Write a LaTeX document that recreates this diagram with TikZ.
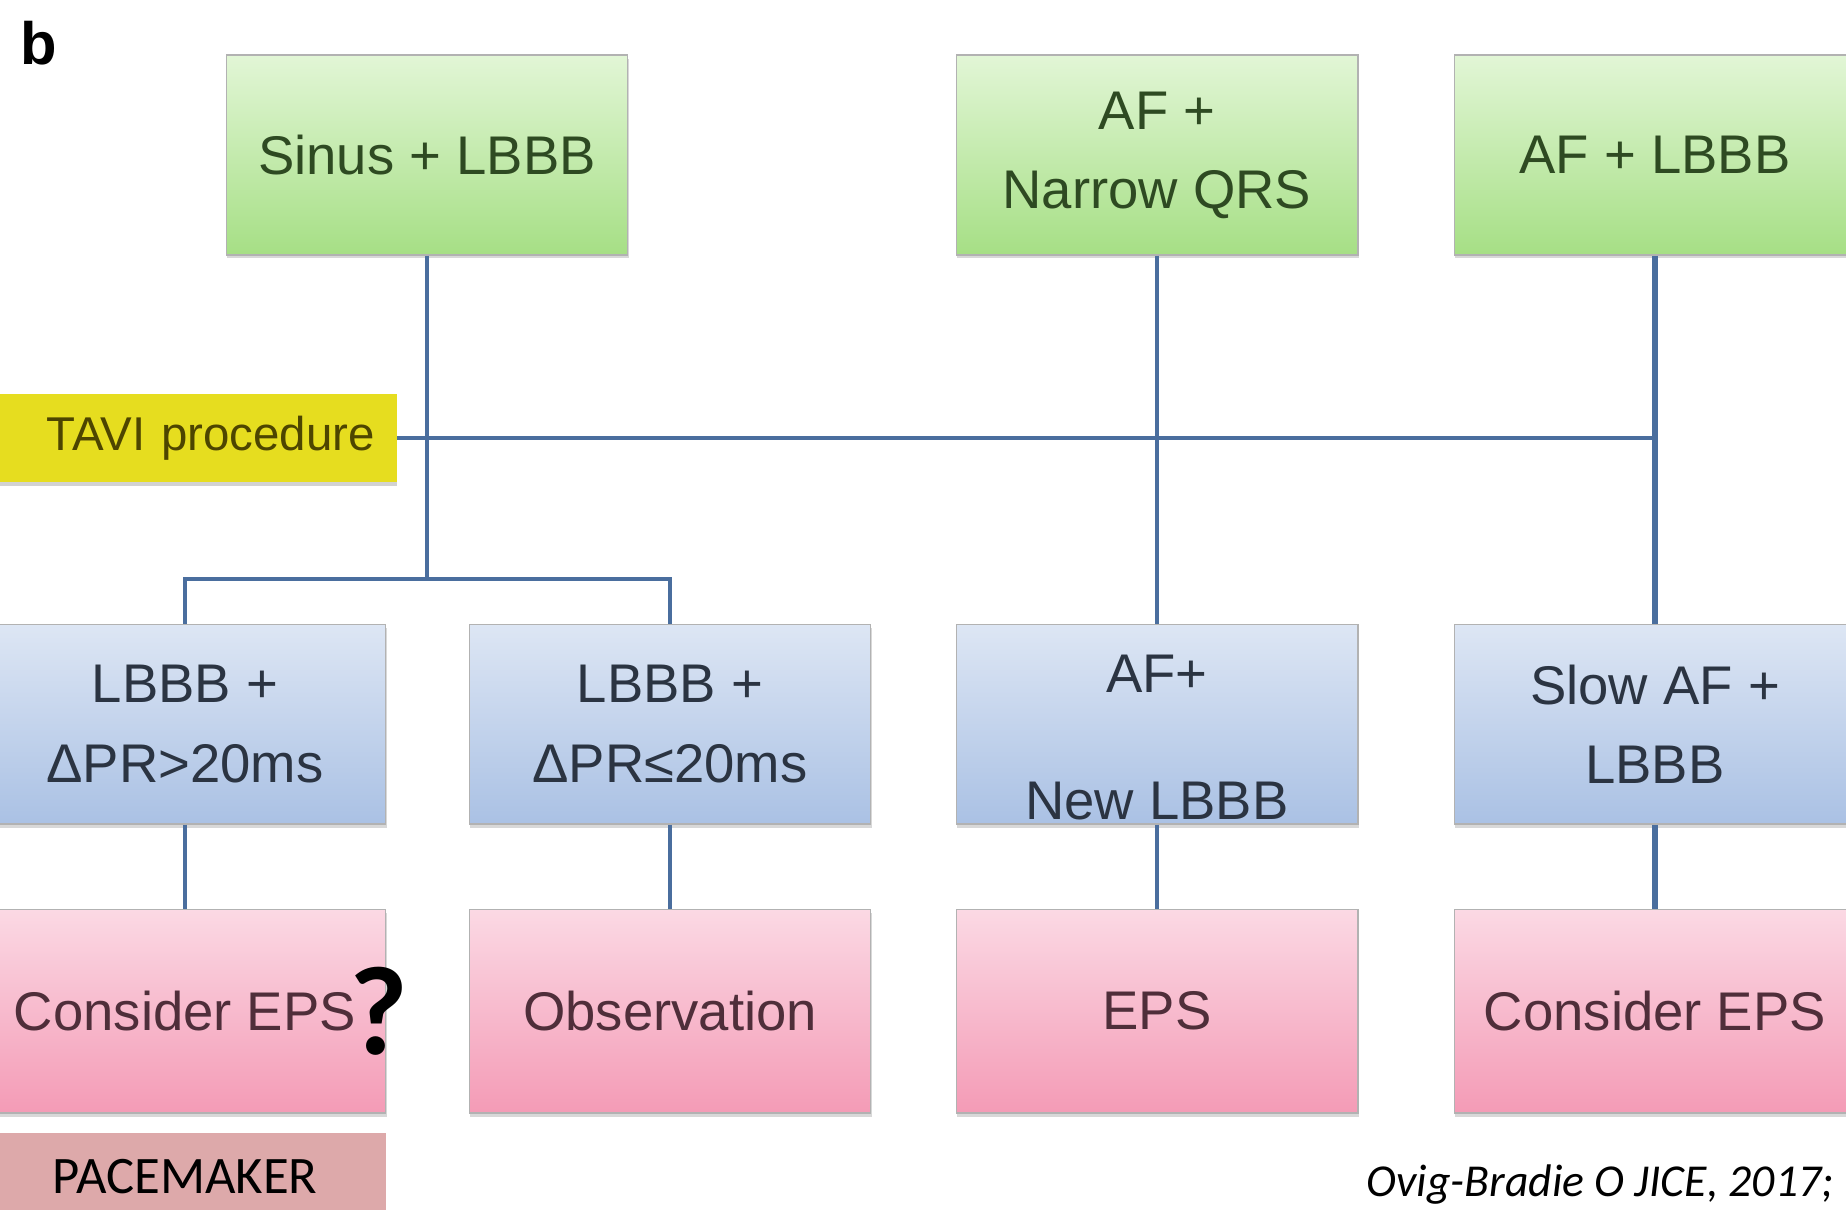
\documentclass[tikz,border=0pt]{standalone}
\usepackage{fontspec}
\setmainfont{Liberation Sans}
\newfontfamily\calibri{Carlito}
\usepackage{tikz}
\usetikzlibrary{positioning, shadows, calc}

\definecolor{linkblue}{HTML}{4A6E9E}
\definecolor{greentop}{HTML}{E2F6D6}
\definecolor{greenbot}{HTML}{A6DF85}
\definecolor{greentext}{HTML}{2E4A22}
\definecolor{bluetop}{HTML}{DDE6F4}
\definecolor{bluebot}{HTML}{AAC1E4}
\definecolor{bluetext}{HTML}{2B3442}
\definecolor{pinktop}{HTML}{FBD9E4}
\definecolor{pinkbot}{HTML}{F49BB6}
\definecolor{pinktext}{HTML}{4F2E3A}
\definecolor{tavifill}{HTML}{E6DD1F}
\definecolor{tavitext}{HTML}{4D4500}
\definecolor{pacefill}{HTML}{DDA9AA}

\tikzset{
  box/.style={rectangle, draw=black!30, line width=0.6pt,
    minimum width=8.04cm, minimum height=4cm, align=center,
    font=\fontsize{31}{45}\selectfont,
    drop shadow={shadow xshift=0.4pt, shadow yshift=-2pt, fill=black!30}},
  greenbox/.style={box, top color=greentop, bottom color=greenbot, text=greentext},
  bluebox/.style={box, top color=bluetop, bottom color=bluebot, text=bluetext},
  pinkbox/.style={box, top color=pinktop, bottom color=pinkbot, text=pinktext,
    minimum height=4.08cm},
  link/.style={draw=linkblue, line width=2pt},
}

\begin{document}
\begin{tikzpicture}[x=0.02cm, y=-0.02cm]
  \clip (0,0) rectangle (1846,1210);
  \fill[white] (0,0) rectangle (1846,1210);

  \node[font=\fontsize{34}{40}\selectfont\bfseries, anchor=base west] (panel) at (14,64) {b};

  % first rhythm
  \node[greenbox] (sinus) at (427,155) {Sinus + LBBB};
  \node[greenbox] (afnarrow) at (1157,155) {AF +\\Narrow QRS};
  \node[greenbox] (aflbbb) at (1655,155) {AF + LBBB};

  \node[anchor=east, fill=tavifill, text=tavitext, text width=7.6cm, align=right,
    inner xsep=0.44cm, minimum height=1.78cm, font=\fontsize{27}{30}\selectfont,
    drop shadow={shadow xshift=0.4pt, shadow yshift=-2pt, fill=black!35}]
    (tavi) at (397,438) {TAVI procedure};

  % after TAVI
  \node[bluebox] (lbbbhi) at (185,724) {LBBB +\\ΔPR>20ms};
  \node[bluebox] (lbbblo) at (670,724) {LBBB +\\ΔPR≤20ms};
  \node[bluebox, inner ysep=0pt] (afnew) at (1157,724) {\rule{0pt}{1.3cm}AF+\\[27pt]New LBBB};
  \node[bluebox] (slowaf) at (1655,724) {Slow AF +\\LBBB};

  % management
  \node[pinkbox] (epshi) at (185,1011) {Consider EPS};
  \node[pinkbox] (observ) at (670,1011) {Observation};
  \node[pinkbox] (eps) at (1157,1011) {EPS};
  \node[pinkbox] (epsslow) at (1655,1011) {Consider EPS};

  \node[inner sep=0pt, font=\calibri\fontsize{72}{80}\selectfont\bfseries] (qmark) at (379,1011) {?};

  \node[fill=pacefill, minimum width=8.04cm, minimum height=1.76cm,
    font=\calibri\fontsize{30}{36}\selectfont] (pace) at (185,1177) {PACEMAKER};

  \node[anchor=base west, inner sep=0pt, font=\calibri\itshape\fontsize{26}{30}\selectfont]
    (cite) at (1366,1196) {Ovig-Bradie O JICE, 2017;};

  % connectors
  \coordinate (split) at (427,579);
  \draw[link] (sinus.south) -- (split);
  \draw[link] (lbbbhi.north) |- (split) -| (lbbblo.north);
  \draw[link] (tavi.east) -- (tavi.east -| aflbbb.south);
  \draw[link] (afnarrow.south) -- (afnew.north);
  \draw[link, line width=3.5pt] (aflbbb.south) -- (slowaf.north);
  \foreach \a/\b in {lbbbhi/epshi, lbbblo/observ, afnew/eps}
    \draw[link] (\a.south) -- (\b.north);
  \draw[link, line width=3.5pt] (slowaf.south) -- (epsslow.north);
\end{tikzpicture}
\end{document}
